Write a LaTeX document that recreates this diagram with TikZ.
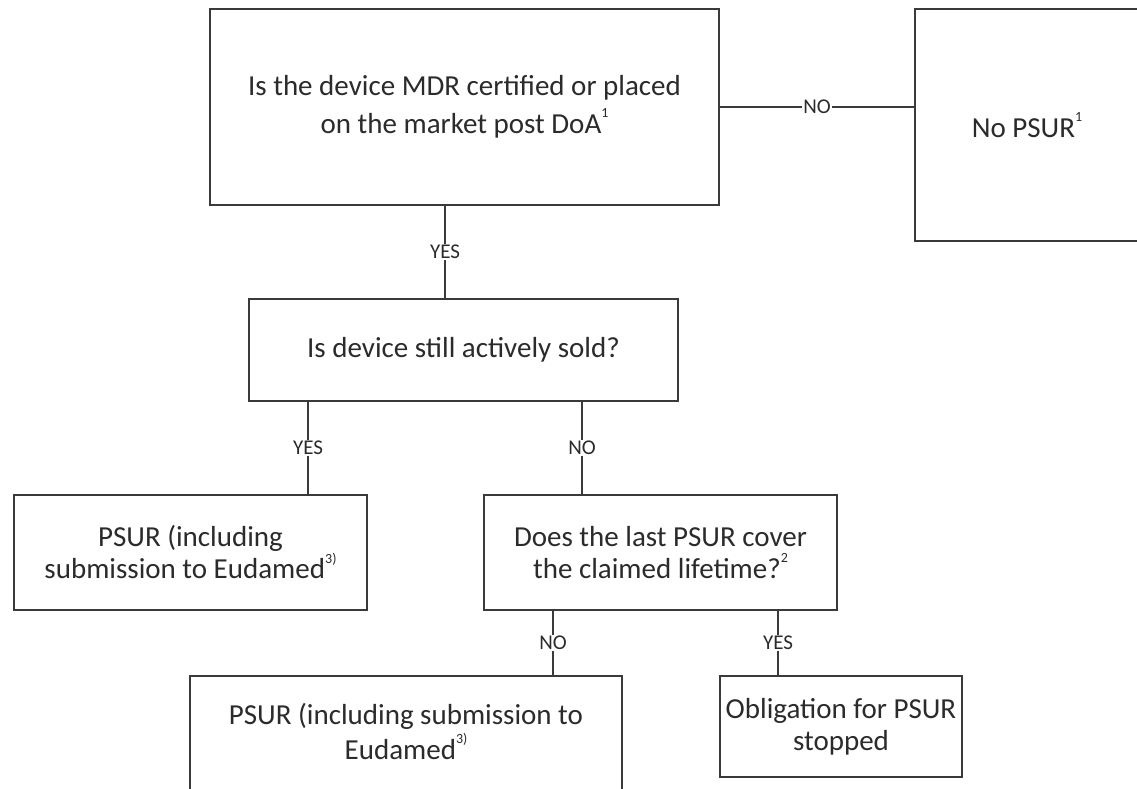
\documentclass[tikz,border=0pt]{standalone}
\usepackage{fontspec}
\setmainfont{Carlito}
\definecolor{ink}{HTML}{2B2B2B}
\definecolor{edge}{HTML}{3A3A3A}
\newcommand\supr[1]{\raisebox{0.55em}{\fontsize{14}{14}\selectfont #1}}
\begin{document}
\begin{tikzpicture}[x=1pt,y=-1pt,
  box/.style={draw=edge,line width=2pt,rectangle,inner sep=0pt,align=center,text=ink,font=\fontsize{29}{32}\selectfont},
  txt/.style={inner sep=0pt,align=center,text=ink,font=\fontsize{29}{35}\selectfont},
  lbl/.style={fill=white,inner sep=1.5pt,text=ink,font=\fontsize{21}{21}\selectfont},
  conn/.style={draw=edge,line width=2pt}]
\useasboundingbox (0,0) rectangle (1137,789);
\fill[white] (0,0) rectangle (1137,789);

\node[box,minimum width=509pt,minimum height=196pt,font=\fontsize{29}{38}\selectfont] (b1) at (464.5,107)
  {Is the device MDR certified or placed\\on the market post DoA\supr{1}};
\node[box,minimum width=224pt,minimum height=232pt] (n1) at (1027,125) {No PSUR\supr{1}};
\node[box,minimum width=429pt,minimum height=102pt] (b2) at (463.5,350) {Is device still actively sold?};
\node[box,minimum width=353pt,minimum height=115pt] (b4) at (190.5,552.5)
  {PSUR (including\\submission to Eudamed\supr{3)}};
\node[box,minimum width=353pt,minimum height=115pt] (b3) at (660.5,552.5)
  {Does the last PSUR cover\\the claimed lifetime?\supr{2}};
\node[box,minimum width=432pt,minimum height=140pt] (b5) at (406,746) {};
\node[txt] (b5t) at (406,731) {PSUR (including submission to\\Eudamed\supr{3)}};
\node[box,minimum width=242pt,minimum height=101pt] (b6) at (841,726.5)
  {Obligation for PSUR\\stopped};

\draw[conn] (b1.east) -- node[lbl]{NO} (b1.east -| n1.west);
\draw[conn] ([xshift=-19.5pt]b1.south) -- node[lbl]{YES} ([xshift=-19.5pt]b1.south |- b2.north);
\draw[conn] ([xshift=-155.5pt]b2.south) -- node[lbl]{YES} ([xshift=-155.5pt]b2.south |- b4.north);
\draw[conn] ([xshift=118.5pt]b2.south) -- node[lbl]{NO} ([xshift=118.5pt]b2.south |- b3.north);
\draw[conn] ([xshift=-107.5pt]b3.south) -- node[lbl]{NO} ([xshift=-107.5pt]b3.south |- b5.north);
\draw[conn] ([xshift=117.5pt]b3.south) -- node[lbl]{YES} ([xshift=117.5pt]b3.south |- b6.north);
\end{tikzpicture}
\end{document}
